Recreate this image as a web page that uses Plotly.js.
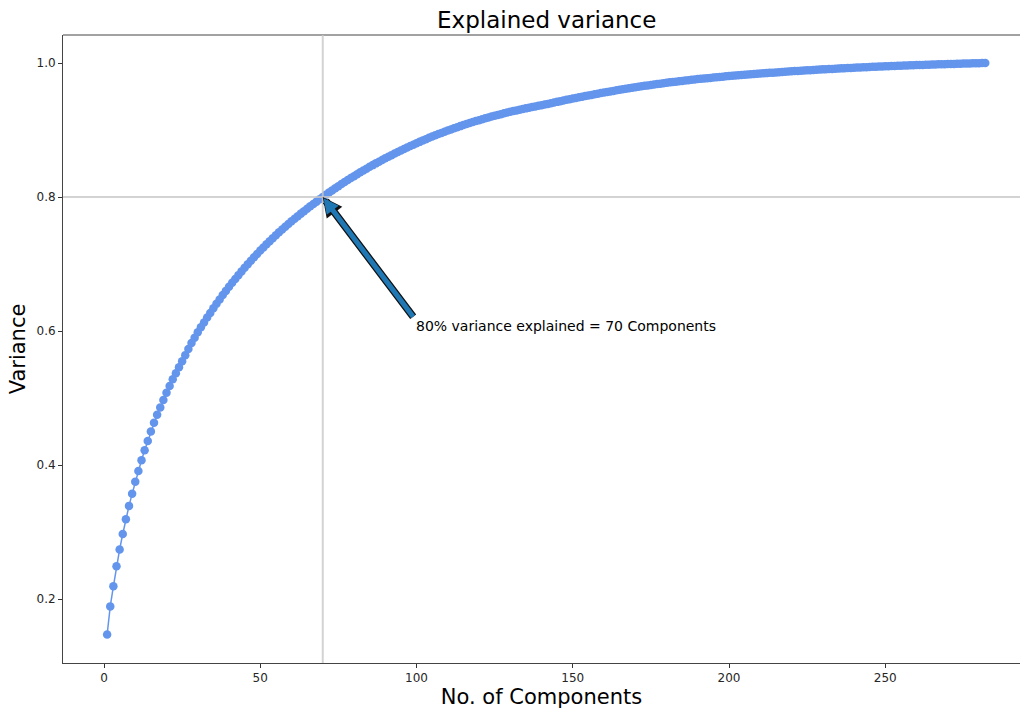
<!DOCTYPE html>
<html>
<head>
<meta charset="utf-8">
<script src="https://cdn.plot.ly/plotly-3.0.1.min.js"></script>
<style>
  html, body { margin: 0; padding: 0; background: #ffffff; }
  #chart { width: 1020px; height: 709px; }
</style>
</head>
<body>
<div id="chart"></div>
<script>
// Cumulative explained variance, one value per component (component 1 .. 282)
const cumulativeVariance = [
  0.147, 0.189, 0.219, 0.249, 0.274, 0.297, 0.319, 0.339, 0.357, 0.375,
  0.391, 0.407, 0.422, 0.436, 0.450, 0.463, 0.475, 0.486, 0.497, 0.508,
  0.518, 0.528, 0.537, 0.546, 0.555, 0.564, 0.573, 0.582, 0.590, 0.598,
  0.6055, 0.6128, 0.6200, 0.6270, 0.6339, 0.6406, 0.6472, 0.6536, 0.6599, 0.6660,
  0.6719, 0.6777, 0.6834, 0.6890, 0.6945, 0.6998, 0.7050, 0.7101, 0.7151, 0.7200,
  0.7248, 0.7295, 0.7341, 0.7386, 0.7430, 0.7473, 0.7515, 0.7556, 0.7597, 0.7637,
  0.7676, 0.7714, 0.7752, 0.7789, 0.7825, 0.7861, 0.7896, 0.7931, 0.7966, 0.8001,
  0.8034, 0.8067, 0.8099, 0.8131, 0.8162, 0.8193, 0.8223, 0.8253, 0.8282, 0.8311,
  0.8340, 0.8368, 0.8396, 0.8423, 0.8450, 0.8476, 0.8502, 0.8527, 0.8552, 0.8577,
  0.8601, 0.8625, 0.8648, 0.8671, 0.8694, 0.8716, 0.8738, 0.8760, 0.8781, 0.8802,
  0.8823, 0.8843, 0.8863, 0.8883, 0.8902, 0.8921, 0.8939, 0.8957, 0.8975, 0.8992,
  0.9009, 0.9026, 0.9042, 0.9058, 0.9074, 0.9089, 0.9104, 0.9119, 0.9133, 0.9147,
  0.9161, 0.9174, 0.9187, 0.9200, 0.9213, 0.9225, 0.9237, 0.9249, 0.9260, 0.9271,
  0.9282, 0.9293, 0.9303, 0.9313, 0.9323, 0.9333, 0.9343, 0.9352, 0.9361, 0.9370,
  0.9380, 0.9390, 0.9400, 0.9410, 0.9420, 0.9430, 0.9440, 0.9450, 0.9460, 0.9470,
  0.9479, 0.9488, 0.9497, 0.9506, 0.9515, 0.9524, 0.9533, 0.9542, 0.9551, 0.9560,
  0.9568, 0.9576, 0.9584, 0.9592, 0.9600, 0.9608, 0.9616, 0.9624, 0.9632, 0.9640,
  0.9647, 0.9653, 0.9660, 0.9666, 0.9673, 0.9679, 0.9686, 0.9692, 0.9699, 0.9705,
  0.9711, 0.9716, 0.9722, 0.9727, 0.9733, 0.9738, 0.9744, 0.9749, 0.9755, 0.9760,
  0.9765, 0.9769, 0.9774, 0.9778, 0.9783, 0.9787, 0.9792, 0.9796, 0.9801, 0.9805,
  0.9809, 0.9813, 0.9816, 0.9820, 0.9824, 0.9828, 0.9832, 0.9835, 0.9839, 0.9843,
  0.9846, 0.9849, 0.9853, 0.9856, 0.9859, 0.9863, 0.9866, 0.9869, 0.9873, 0.9876,
  0.9879, 0.9882, 0.9885, 0.9888, 0.9891, 0.9893, 0.9896, 0.9899, 0.9902, 0.9905,
  0.9907, 0.9910, 0.9912, 0.9915, 0.9917, 0.9920, 0.9922, 0.9925, 0.9927, 0.9930,
  0.9932, 0.9934, 0.9936, 0.9938, 0.9940, 0.9943, 0.9945, 0.9947, 0.9949, 0.9951,
  0.9953, 0.9955, 0.9957, 0.9958, 0.9960, 0.9962, 0.9964, 0.9966, 0.9967, 0.9969,
  0.9971, 0.9972, 0.9974, 0.9975, 0.9977, 0.9978, 0.9980, 0.9981, 0.9983, 0.9984,
  0.9985, 0.9987, 0.9988, 0.9989, 0.9991, 0.9992, 0.9993, 0.9995, 0.9996, 0.9997,
  0.9999, 1.0000
];
// Component numbers 1..N
const components = cumulativeVariance.map((_, i) => i + 1);

// Threshold marked on the chart
const thresholdComponents = 70;
const thresholdVariance = 0.8;
const annotationText = "80% variance explained = 70 Components";
const annotationTextPos = { x: 100, y: 0.6 };
const arrowTailPos = { x: 99.3, y: 0.619 };

const xTickVals = [0, 50, 100, 150, 200, 250];
const yTickVals = [0.2, 0.4, 0.6, 0.8, 1.0];
const yTickText = ["0.2", "0.4", "0.6", "0.8", "1.0"];

const FONT = "DejaVu Sans, sans-serif";
const curveColor = "#6495ED";

const trace = {
  x: components,
  y: cumulativeVariance,
  type: "scatter",
  mode: "lines+markers",
  line: { color: curveColor, width: 1.5 },
  marker: { color: curveColor, size: 8.5 },
  hoverinfo: "x+y",
  showlegend: false
};

const layout = {
  width: 1020,
  height: 709,
  paper_bgcolor: "#ffffff",
  plot_bgcolor: "#ffffff",
  margin: { l: 63, r: 0, t: 35, b: 46 },
  font: { family: FONT, color: "#000000" },
  title: {
    text: "Explained variance",
    font: { family: FONT, size: 23, color: "#000000" },
    x: 0.536, xanchor: "center",
    y: 1 - 20 / 709, yanchor: "middle", yref: "container"
  },
  xaxis: {
    range: [-13.12, 293.12],
    tickvals: xTickVals,
    ticks: "outside", ticklen: 4, tickwidth: 1, tickcolor: "#333333",
    tickfont: { family: FONT, size: 12, color: "#262626" },
    showline: true, linecolor: "#444444", linewidth: 1,
    showgrid: false, zeroline: false,
    title: { text: "No. of Components", font: { family: FONT, size: 21, color: "#000000" }, standoff: 5 },
    automargin: false
  },
  yaxis: {
    range: [0.1045, 1.0418],
    tickvals: yTickVals,
    ticktext: yTickText,
    ticks: "outside", ticklen: 4, tickwidth: 1, tickcolor: "#333333",
    tickfont: { family: FONT, size: 12, color: "#262626" },
    showline: true, linecolor: "#444444", linewidth: 1,
    showgrid: false, zeroline: false,
    title: { text: "Variance", font: { family: FONT, size: 21, color: "#000000" }, standoff: 5 },
    automargin: false
  },
  shapes: [
    // top spine
    { type: "line", xref: "paper", yref: "paper", x0: 0, x1: 1, y0: 1, y1: 1,
      line: { color: "#444444", width: 1 }, layer: "above" },
    // threshold lines
    { type: "line", xref: "x", yref: "paper", x0: thresholdComponents, x1: thresholdComponents, y0: 0, y1: 1,
      line: { color: "rgba(200,200,200,0.8)", width: 2 }, layer: "above" },
    { type: "line", xref: "paper", yref: "y", x0: 0, x1: 1, y0: thresholdVariance, y1: thresholdVariance,
      line: { color: "rgba(200,200,200,0.8)", width: 2 }, layer: "above" }
  ],
  annotations: [
    // arrow outline
    { x: thresholdComponents, y: thresholdVariance, xref: "x", yref: "y",
      ax: arrowTailPos.x, ay: arrowTailPos.y, axref: "x", ayref: "y",
      text: "", showarrow: true, arrowhead: 2, arrowsize: 0.52, arrowwidth: 7.5,
      arrowcolor: "#111111", standoff: 0 },
    // arrow fill
    { x: thresholdComponents, y: thresholdVariance, xref: "x", yref: "y",
      ax: arrowTailPos.x, ay: arrowTailPos.y, axref: "x", ayref: "y",
      text: "", showarrow: true, arrowhead: 2, arrowsize: 0.6, arrowwidth: 5,
      arrowcolor: "#1f77b4", standoff: 1.5 },
    // text
    { x: annotationTextPos.x, y: annotationTextPos.y, xref: "x", yref: "y",
      text: annotationText, showarrow: false, xanchor: "left", yanchor: "middle",
      xshift: -3, yshift: 5,
      font: { family: FONT, size: 14, color: "#000000" } }
  ]
};

Plotly.newPlot("chart", [trace], layout, { displayModeBar: false, staticPlot: true });
</script>
</body>
</html>
